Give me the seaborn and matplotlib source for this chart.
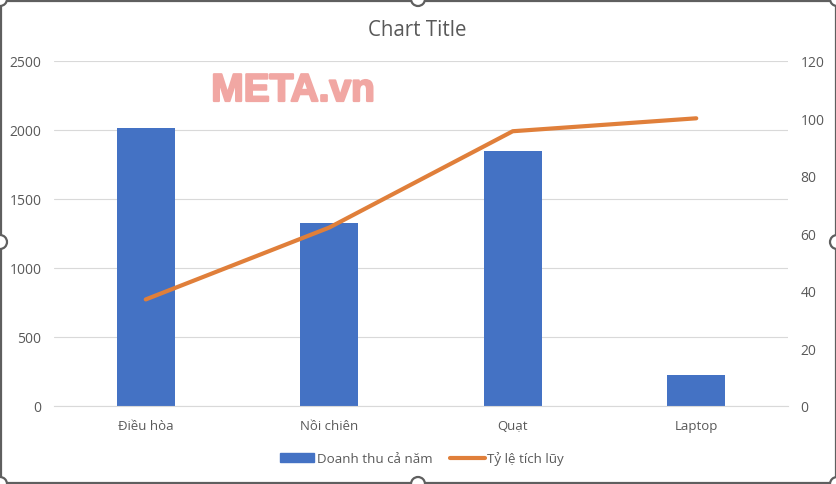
import seaborn as sns
import matplotlib.pyplot as plt
import matplotlib.patheffects as pe
import pandas as pd
from matplotlib.lines import Line2D
from matplotlib.patches import Patch, Circle, Rectangle

# values
categories = ['Điều hòa', 'Nồi chiên', 'Quạt', 'Laptop']
revenue = [2010, 1325, 1850, 225]
cumulative = [37, 62, 95.5, 100]
left_ticks = [0, 500, 1000, 1500, 2000, 2500]
right_ticks = [0, 20, 40, 60, 80, 100, 120]

W, H = 837, 485
TEXT = '#595959'
GRID = '#d9d9d9'
BLUE = '#4472c4'
ORANGE = '#e07f3a'
FRAME = '#5f5f5f'
WATERMARK = '#f1a7a3'

sns.set_theme(style='white')
plt.rcParams['font.family'] = ['Open Sans', 'Noto Sans', 'DejaVu Sans']

data = pd.DataFrame({'cat': categories, 'rev': revenue, 'cum': cumulative})

fig = plt.figure(figsize=(W / 100, H / 100), dpi=100, facecolor='white')
ax = fig.add_axes([54 / W, 1 - 406.8 / H, (788 - 54) / W, (406.8 - 61.8) / H])

sns.barplot(data=data, x='cat', y='rev', color=BLUE, saturation=1, width=0.316, linewidth=0, ax=ax, zorder=2)
ax.set_xlim(-0.5, 3.5)
ax.set_ylim(0, 2500)
ax.set_yticks(left_ticks)
ax.grid(axis='y', color=GRID, lw=0.8)
ax.set_axisbelow(True)
ax.set_xlabel('')
ax.set_ylabel('')
ax.tick_params(axis='y', length=0, pad=9, labelsize=10, labelcolor=TEXT)
ax.tick_params(axis='x', length=0, pad=9.5, labelsize=9.5, labelcolor=TEXT)
sns.despine(ax=ax, left=True, right=True, top=True)
ax.spines['bottom'].set_color(GRID)
ax.spines['bottom'].set_linewidth(0.8)

ax2 = ax.twinx()
sns.lineplot(data=data, x='cat', y='cum', color=ORANGE, lw=3, ax=ax2, sort=False, zorder=3)
ax2.set_ylim(0, 120)
ax2.set_yticks(right_ticks)
ax2.set_ylabel('')
ax2.tick_params(axis='y', length=0, pad=9, labelsize=10, labelcolor=TEXT)
sns.despine(ax=ax2, left=True, right=True, top=True, bottom=True)

fig.text(417 / W, 1 - 30 / H, 'Chart Title', ha='center', va='center', fontsize=14.8, color=TEXT)
fig.text(293 / W, 1 - 92 / H, 'META.vn', ha='center', va='center', fontsize=28, weight='bold',
         family='Liberation Sans', color=WATERMARK,
         path_effects=[pe.withStroke(linewidth=1.6, foreground=WATERMARK)])

handles = [Patch(color=BLUE, label='Doanh thu cả năm'),
           Line2D([0], [0], color=ORANGE, lw=3, label='Tỷ lệ tích lũy')]
fig.legend(handles=handles, loc='center', bbox_to_anchor=(422 / W, 1 - 459.5 / H), ncol=2, frameon=False,
           fontsize=9.6, labelcolor=TEXT, handlelength=2.6, handletextpad=0.2, columnspacing=1.3)

# selection frame of the chart object, with its resize handles
fig.add_artist(Rectangle((1 / W, 1 / H), (W - 2) / W, (H - 3) / H, transform=fig.transFigure,
                         fill=False, edgecolor=FRAME, lw=1.6))
for px, py in [(0, 0), (418, 0), (837, 0), (0, 243), (837, 243), (0, 485), (418, 485), (837, 485)]:
    fig.add_artist(Circle((px, H - py), 7, transform=None, facecolor='white', edgecolor=FRAME, lw=1.6))

fig.savefig('out.png', dpi=100)
plt.close()
